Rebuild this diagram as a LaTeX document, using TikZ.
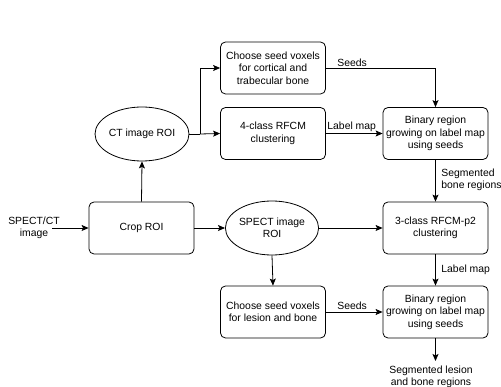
\documentclass[tikz,border=0pt]{standalone}
\usepackage{fontspec}
\setmainfont{Liberation Sans}
\usetikzlibrary{arrows.meta,shapes.geometric}
\begin{document}
\begin{tikzpicture}[x=1pt,y=-1pt,
  font=\fontsize{10.4}{12.5}\selectfont,
  line width=0.8pt,
  box/.style={draw, rounded corners=5pt, minimum width=105pt, minimum height=52pt, align=center, inner sep=1pt},
  oval/.style={draw, ellipse, minimum width=78pt, minimum height=54pt, align=center, inner sep=0pt},
  arr/.style={-{Stealth[length=7pt,width=6pt,inset=1.5pt]}},
  lbl/.style={align=left, inner sep=1pt}
]
\useasboundingbox (0,0) rectangle (501,387);
\node[box] (crop) at (141.5,228) {Crop ROI};
\node[oval] (ct) at (142,134) {CT image ROI};
\node[box] (seedct) at (273,68) {Choose seed voxels\\for cortical and\\trabecular bone};
\node[box] (rfcm4) at (273,133.5) {4-class RFCM\\clustering};
\node[box] (bin1) at (435.5,133.5) {Binary region\\growing on label map\\using seeds};
\node[oval] (spect) at (272,228) {SPECT image\\ROI};
\node[box] (rfcm3) at (435.5,228) {3-class RFCM-p2\\clustering};
\node[box] (seedsp) at (273,312) {Choose seed voxels\\for lesion and bone};
\node[box] (bin2) at (435.5,312) {Binary region\\growing on label map\\using seeds};
\node[align=center, inner sep=0pt] (input) at (34,228) {SPECT/CT\\image};
\coordinate (inend) at (52,228);
\coordinate (split) at (200,134);
\coordinate (seedcorner) at (435.5,68);
\coordinate (outend) at (435.5,361);
\node[align=center, inner sep=0pt] (out) at (431,377) {Segmented lesion\\and bone regions};

\draw[arr] (inend) -- (crop.west);
\draw[arr] (crop.north) -- (ct.south);
\draw (ct.east) -- (split);
\draw[arr] (split) |- (seedct.west);
\draw[arr] (split) -- (rfcm4.west);
\draw[arr] (seedct.east) -- (seedcorner) -- (bin1.north);
\node[lbl, anchor=south west] (lseeds1) at (336,68) {Seeds};
\draw[arr] (rfcm4.east) -- (bin1.west);
\node[lbl, anchor=south west] (llab1) at (326,133) {Label map};
\draw[arr] (bin1.south) -- (rfcm3.north);
\node[lbl, anchor=west] (lseg) at (440,180) {Segmented\\bone regions};
\draw[arr] (crop.east) -- (spect.west);
\draw[arr] (spect.east) -- (rfcm3.west);
\draw[arr] (spect.south) -- (seedsp.north);
\draw[arr] (rfcm3.south) -- (bin2.north);
\node[lbl, anchor=west] (llab2) at (440,270) {Label map};
\draw[arr] (seedsp.east) -- (bin2.west);
\node[lbl, anchor=south west] (lseeds2) at (336,311) {Seeds};
\draw[arr] (bin2.south) -- (outend);
\end{tikzpicture}
\end{document}
